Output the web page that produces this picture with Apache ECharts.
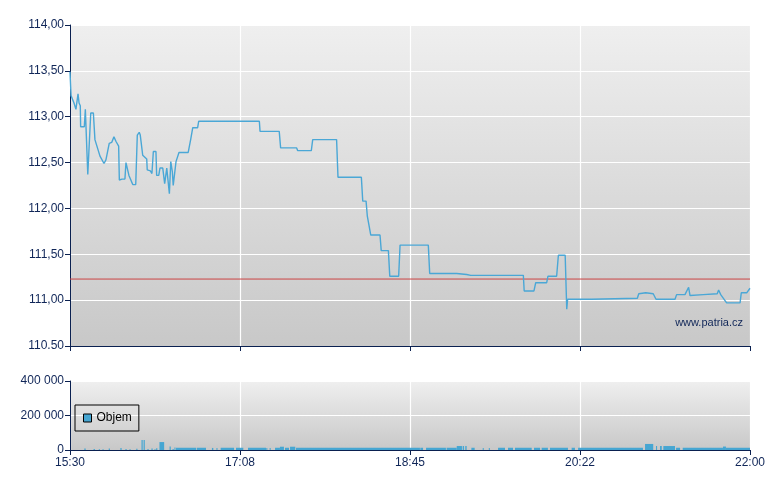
<!DOCTYPE html>
<html>
<head>
<meta charset="utf-8">
<script src="https://cdn.jsdelivr.net/npm/echarts@6/dist/echarts.min.js"></script>
<style>
  html, body { margin: 0; padding: 0; background: #fff; }
  #chart { width: 780px; height: 490px; }
</style>
</head>
<body>
<div id="chart"></div>
<script>
// minutes after 15:30
var timeLabels = ['15:30', '17:08', '18:45', '20:22', '22:00'];
var priceLabels = ['110.50', '111,00', '111,50', '112,00', '112,50', '113,00', '113,50', '114,00'];
var volumeLabels = ['0', '200 000', '400 000'];
var prevClose = 111.23;

// [minute, price]
var priceData = [
  [0, 113.49], [0.6, 113.23], [2.3, 113.15], [3.4, 113.08], [4.2, 113.08], [4.6, 113.25],
  [5.2, 113.15], [5.9, 113.12], [6.1, 112.89], [8.2, 112.89], [8.8, 113.08], [9.3, 113.08],
  [10.2, 112.37], [11.1, 112.37], [11.9, 113.04], [13.4, 113.04], [14.3, 112.75], [15.3, 112.74],
  [17.2, 112.57], [18.2, 112.56], [19.5, 112.49], [20.6, 112.53], [22.5, 112.71], [23.9, 112.72],
  [25.2, 112.78], [26.4, 112.73], [27.9, 112.68], [28.3, 112.31], [29.1, 112.31], [29.8, 112.32],
  [31.5, 112.32], [32.1, 112.50], [32.9, 112.49], [33.8, 112.36], [34.6, 112.34], [36.0, 112.26],
  [37.7, 112.26], [38.6, 112.80], [39.7, 112.83], [40.3, 112.80], [41.3, 112.79], [41.7, 112.58],
  [42.6, 112.58], [44.0, 112.54], [44.3, 112.42], [46.1, 112.41], [47.0, 112.38], [47.8, 112.62],
  [49.3, 112.62], [49.7, 112.36], [50.9, 112.36], [51.6, 112.44], [53.2, 112.44], [53.9, 112.43],
  [54.3, 112.27], [54.9, 112.27], [55.5, 112.44], [56.2, 112.43], [57.0, 112.16], [57.8, 112.51],
  [58.7, 112.40], [59.2, 112.25], [60.0, 112.25], [60.8, 112.51], [61.8, 112.51], [62.5, 112.61],
  [67.8, 112.61], [69.2, 112.75], [69.8, 112.75], [70.4, 112.88], [73.2, 112.88], [73.8, 112.95],
  [108.6, 112.95], [109.0, 112.84], [120.0, 112.84], [120.8, 112.66], [130.0, 112.66], [130.6, 112.63],
  [138.4, 112.63], [139.2, 112.75], [152.9, 112.75], [153.7, 112.34], [167.1, 112.34], [167.9, 112.08],
  [169.8, 112.08], [170.5, 111.92], [171.5, 111.92], [172.5, 111.71], [177.8, 111.71], [178.5, 111.54],
  [182.6, 111.54], [183.4, 111.26], [188.5, 111.26], [189.3, 111.60], [205.5, 111.60], [206.3, 111.29],
  [221.8, 111.29], [222.5, 111.28], [227.5, 111.28], [229.8, 111.27], [260.0, 111.27], [260.5, 111.10],
  [266.1, 111.10], [267.1, 111.19], [273.4, 111.19], [274.1, 111.26], [279.1, 111.26], [280.1, 111.49],
  [284.0, 111.49], [284.9, 110.90], [285.4, 111.01], [299.2, 111.01], [300.1, 111.02], [325.4, 111.02],
  [326.2, 111.07], [330.2, 111.08], [334.5, 111.07], [336.1, 111.01], [347.0, 111.01], [347.9, 111.06],
  [352.7, 111.06], [353.6, 111.05], [354.8, 111.14], [355.6, 111.05], [363.2, 111.06], [371.2, 111.07],
  [372.0, 111.11], [373.2, 111.06], [374.3, 111.04], [376.6, 110.97], [384.3, 110.97], [385.0, 111.08],
  [388.1, 111.08], [389.2, 111.08], [390, 111.13]
];

// [from minute, to minute, volume]
var volumeData = [
  [8.2, 9.0, 9000], [13.5, 14.3, 6000], [16.5, 17.2, 5000], [18.6, 19.3, 4000], [22.2, 22.9, 8000],
  [28.9, 29.6, 12000], [31.8, 32.5, 6000], [34.1, 34.8, 5000], [38.0, 38.7, 7000], [41.0, 41.7, 58000],
  [42.2, 42.9, 58000], [44.4, 45.1, 6000], [46.7, 47.4, 9000], [48.4, 49.1, 5000], [49.4, 50.1, 10000],
  [51.3, 54.0, 46000], [57.1, 57.8, 20000], [58.8, 59.5, 6000], [59.9, 60.5, 15000],
  [60.8, 72.3, 13000], [72.7, 78.0, 13000], [81.4, 82.2, 12000], [84.0, 84.6, 12000], [86.4, 94.1, 13000],
  [95.2, 99.4, 13000], [102.1, 112.4, 13000], [112.6, 113.2, 12000], [114.5, 115.1, 12000],
  [117.6, 120.4, 13000], [120.4, 122.7, 19000], [123.3, 125.6, 13000], [126.2, 129.2, 19000],
  [129.6, 131.9, 13000], [131.9, 200.7, 13000], [200.9, 202.5, 13000], [204.2, 215.6, 13000],
  [216.0, 221.8, 13000], [221.8, 224.8, 23000], [225.2, 226.0, 23000], [226.7, 227.5, 23000],
  [230.2, 232.1, 13000], [236.7, 237.3, 12000], [240.2, 240.8, 12000], [245.5, 249.5, 13000],
  [251.2, 254.1, 13000], [255.2, 264.8, 13000], [266.1, 269.6, 13000], [270.5, 274.1, 13000],
  [275.3, 285.6, 13000], [287.7, 289.6, 13000], [291.4, 328.6, 13000], [329.8, 334.5, 35000],
  [336.1, 336.7, 23000], [338.4, 339.4, 23000], [340.3, 347.0, 23000], [347.6, 349.9, 13000],
  [351.4, 374.5, 13000], [374.5, 376.2, 20000], [376.2, 390.0, 13000]
];

var axisColor = '#0a2050';
var labelColor = '#102658';
var fontFamily = 'Liberation Sans, Arial, sans-serif';

function plotBg() {
  return {
    type: 'linear', x: 0, y: 0, x2: 0, y2: 1,
    colorStops: [{offset: 0, color: '#efefef'}, {offset: 1, color: '#c8c8c8'}]
  };
}

function timeAxis(gridIndex, showLabels) {
  return {
    type: 'value',
    gridIndex: gridIndex,
    min: 0,
    max: 390,
    interval: 97.5,
    axisLine: {show: true, onZero: false, lineStyle: {color: axisColor, width: 1}},
    axisTick: {show: true, length: 5, lineStyle: {color: axisColor}},
    splitLine: {show: true, lineStyle: {color: '#ffffff', width: 1.2}},
    axisLabel: {
      show: showLabels,
      color: labelColor,
      fontSize: 12,
      fontFamily: fontFamily,
      margin: 7,
      formatter: function (v) {
        return timeLabels[Math.round(v / 97.5)];
      }
    }
  };
}

var option = {
  backgroundColor: '#ffffff',
  animation: false,
  grid: [
    {left: 70, right: 30, top: 25, height: 321, show: true, borderWidth: 0, backgroundColor: plotBg()},
    {left: 70, right: 30, top: 381, height: 69, show: true, borderWidth: 0, backgroundColor: plotBg()}
  ],
  legend: {
    data: [{name: 'Objem', icon: 'rect'}],
    left: 75,
    top: 405,
    orient: 'vertical',
    borderColor: '#000',
    borderWidth: 1,
    borderRadius: 0,
    padding: [7, 7, 7, 8],
    itemWidth: 8,
    itemHeight: 8,
    itemStyle: {color: '#46a6d2', borderColor: '#000', borderWidth: 1},
    textStyle: {color: '#000', fontSize: 12, fontFamily: fontFamily}
  },
  xAxis: [timeAxis(0, false), timeAxis(1, true)],
  yAxis: [
    {
      type: 'value',
      gridIndex: 0,
      min: 110.5,
      max: 114,
      interval: 0.5,
      axisLine: {show: true, lineStyle: {color: axisColor}},
      axisTick: {show: true, length: 5, lineStyle: {color: axisColor}},
      splitLine: {show: true, lineStyle: {color: '#ffffff', width: 1.2}},
      axisLabel: {
        color: labelColor, fontSize: 12, fontFamily: fontFamily, margin: 6,
        formatter: function (v) { return priceLabels[Math.round((v - 110.5) / 0.5)]; }
      }
    },
    {
      type: 'value',
      gridIndex: 1,
      min: 0,
      max: 400000,
      interval: 200000,
      axisLine: {show: true, lineStyle: {color: axisColor}},
      axisTick: {show: true, length: 5, lineStyle: {color: axisColor}},
      splitLine: {show: true, lineStyle: {color: '#ffffff', width: 1.2}},
      axisLabel: {
        color: labelColor, fontSize: 12, fontFamily: fontFamily, margin: 6,
        formatter: function (v) { return volumeLabels[Math.round(v / 200000)]; }
      }
    }
  ],
  series: [
    {
      // previous close reference line
      name: 'Předchozí',
      type: 'line',
      xAxisIndex: 0,
      yAxisIndex: 0,
      data: [[0, prevClose], [390, prevClose]],
      symbol: 'none',
      silent: true,
      lineStyle: {color: '#cc4444', width: 1},
      z: 2
    },
    {
      name: 'Cena',
      type: 'line',
      xAxisIndex: 0,
      yAxisIndex: 0,
      data: priceData,
      symbol: 'none',
      lineStyle: {color: '#4aa7d6', width: 1.4},
      z: 3
    },
    {
      name: 'Objem',
      type: 'custom',
      xAxisIndex: 1,
      yAxisIndex: 1,
      data: volumeData,
      encode: {x: [0, 1], y: 2},
      itemStyle: {color: '#46a6d2'},
      renderItem: function (params, api) {
        var p0 = api.coord([api.value(0), api.value(2)]);
        var p1 = api.coord([api.value(1), 0]);
        return {
          type: 'rect',
          shape: {x: p0[0], y: p0[1], width: Math.max(p1[0] - p0[0], 1), height: p1[1] - p0[1]},
          style: {fill: '#46a6d2'}
        };
      }
    }
  ],
  graphic: [
    {
      type: 'text',
      right: 37,
      top: 317,
      style: {text: 'www.patria.cz', fill: '#102658', font: '11px Liberation Sans, Arial, sans-serif'}
    }
  ]
};

var myChart = echarts.init(document.getElementById('chart'));
myChart.setOption(option);
</script>
</body>
</html>
